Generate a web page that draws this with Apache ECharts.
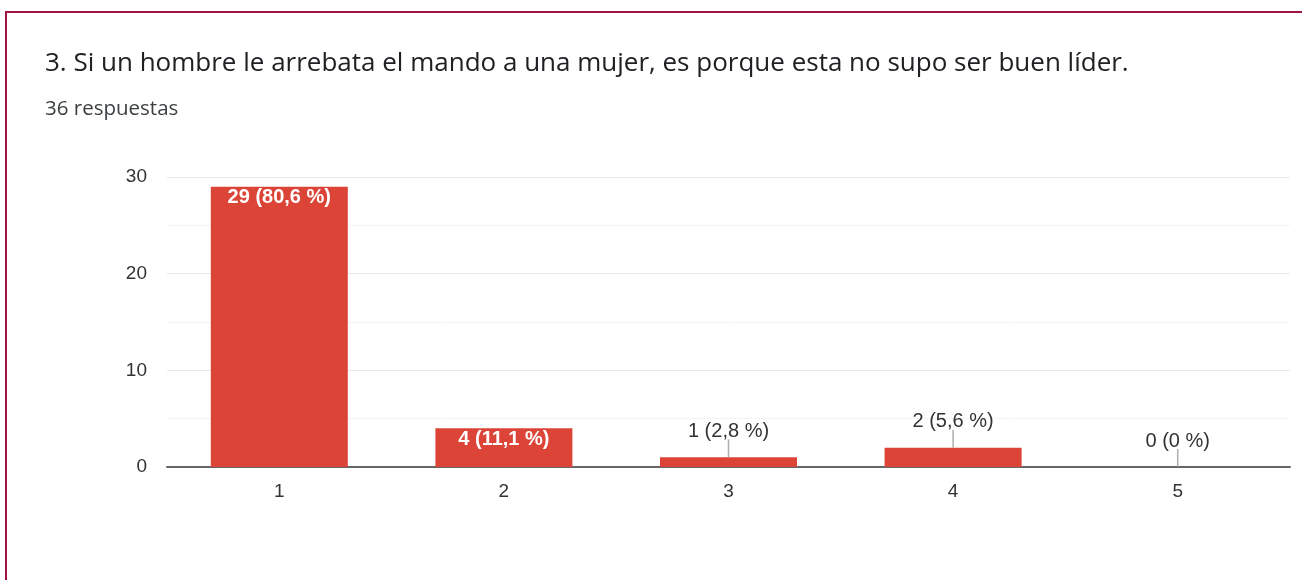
<!DOCTYPE html>
<html>
<head>
<meta charset="utf-8">
<script src="https://cdn.jsdelivr.net/npm/echarts@6/dist/echarts.min.js"></script>
<style>
  html, body { margin: 0; padding: 0; background: #fff; overflow: hidden; }
  .frame {
    position: absolute; left: 5px; top: 11px;
    width: 1400px; height: 700px;
    border: 2px solid #9e1244;
  }
  #chart { position: absolute; left: 0; top: 0; width: 1302px; height: 580px; }
</style>
</head>
<body>
<div class="frame"></div>
<div id="chart"></div>
<script>
// datos de la pregunta 3
const categories = ['1', '2', '3', '4', '5'];
const counts = [29, 4, 1, 2, 0];
const percents = ['80,6', '11,1', '2,8', '5,6', '0'];
const insideLabel = [true, true, false, false, false];

const labelFont = 'Liberation Sans';
const myChart = echarts.init(document.getElementById('chart'));

const barData = counts.map((v, i) => ({
  value: v,
  label: insideLabel[i]
    ? { position: 'insideTop', distance: 1, color: '#fff', fontWeight: 'bold', fontSize: 20 }
    : { position: 'top', distance: 16, color: '#333', fontWeight: 'normal', fontSize: 20 }
}));

// líneas guía para las etiquetas de fuera
const leaderData = counts.map((v, i) => insideLabel[i] ? '-' : v);

const option = {
  animation: false,
  title: [{
    text: '3. Si un hombre le arrebata el mando a una mujer, es porque esta no supo ser buen líder.',
    left: 40, top: 46,
    textStyle: { fontFamily: 'Open Sans', fontSize: 26, fontWeight: 'normal', color: '#202124' }
  }, {
    text: '36 respuestas',
    left: 40, top: 94,
    textStyle: { fontFamily: 'Open Sans', fontSize: 20.5, fontWeight: 'normal', color: '#3c4043' }
  }],
  grid: { left: 167, right: 12, top: 177, bottom: 113 },
  xAxis: {
    type: 'category',
    data: categories,
    axisTick: { show: false },
    axisLine: { lineStyle: { color: '#666', width: 2 } },
    axisLabel: { margin: 15, fontSize: 19, color: '#333', fontFamily: labelFont }
  },
  yAxis: {
    type: 'value',
    min: 0, max: 30, interval: 10,
    axisLabel: { margin: 20, fontSize: 19, color: '#333', fontFamily: labelFont },
    splitLine: { lineStyle: { color: '#e8e8e8' } },
    minorTick: { show: false, splitNumber: 2 },
    minorSplitLine: { show: true, lineStyle: { color: '#f4f4f4' } }
  },
  series: [{
    type: 'bar',
    data: barData,
    barWidth: '61%',
    itemStyle: { color: '#db4437' },
    label: {
      show: true,
      fontFamily: labelFont,
      formatter: p => p.value + ' (' + percents[p.dataIndex] + ' %)'
    },
    z: 2
  }, {
    type: 'scatter',
    data: leaderData,
    symbol: 'rect',
    symbolSize: [1.5, 18],
    symbolOffset: [0, -9],
    itemStyle: { color: '#999' },
    silent: true,
    z: 3
  }]
};

myChart.setOption(option);
window.addEventListener('resize', () => myChart.resize());
</script>
</body>
</html>
